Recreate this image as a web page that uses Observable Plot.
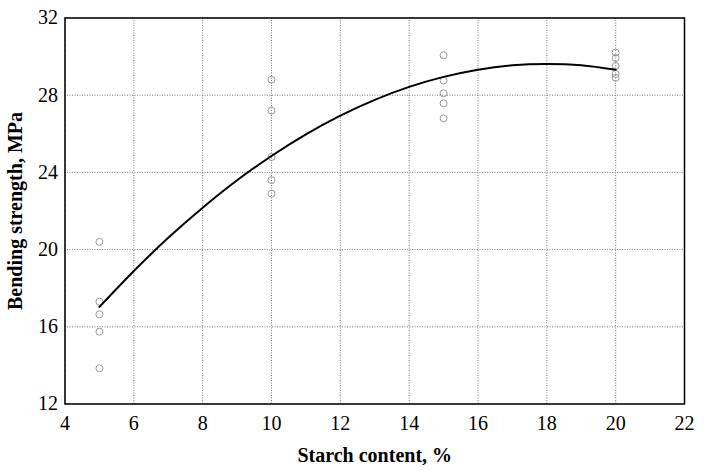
<!DOCTYPE html>
<html>
<head>
<meta charset="utf-8">
<script src="https://cdn.jsdelivr.net/npm/d3@7"></script>
<script src="https://cdn.jsdelivr.net/npm/@observablehq/plot@0.6"></script>
<style>
  html, body { margin: 0; padding: 0; background: #fff; }
  #chart { width: 704px; height: 471px; }
</style>
</head>
<body>
<div id="chart"></div>
<script>
// Measured samples
const starch = [5, 5, 5, 5, 5, 10, 10, 10, 10, 10, 15, 15, 15, 15, 15, 20, 20, 20, 20, 20];
const strength = [20.4, 17.3, 16.65, 15.75, 13.85,
                  28.8, 27.2, 24.8, 23.6, 22.9,
                  30.07, 28.76, 28.1, 27.58, 26.8,
                  30.21, 29.93, 29.52, 29.1, 28.9];

// Trend curve
const trendX = [5, 6, 7, 8, 9, 10, 11, 12, 13, 14, 15, 16, 17, 18, 19, 20];
const trendY = [17.03, 18.89, 20.61, 22.17, 23.59, 24.85, 25.97, 26.94, 27.76, 28.43, 28.95, 29.32, 29.55, 29.62, 29.55, 29.32];

const xTicks = [4, 6, 8, 10, 12, 14, 16, 18, 20, 22];
const yTicks = [12, 16, 20, 24, 28, 32];

const xTitle = "Starch content, %";
const yTitle = "Bending strength, MPa";

const points = starch.map((x, i) => ({x, y: strength[i]}));
const trend = trendX.map((x, i) => ({x, y: trendY[i]}));

const serif = "'Liberation Serif', 'Times New Roman', 'DejaVu Serif', serif";

const plot = Plot.plot({
  width: 704,
  height: 471,
  marginLeft: 64.5,
  marginRight: 20,
  marginTop: 17.5,
  marginBottom: 67.5,
  style: {fontFamily: serif, fontSize: "20px", background: "#fff", color: "#000"},
  x: {domain: [4, 22]},
  y: {domain: [12, 32]},
  marks: [
    Plot.gridX(xTicks, {stroke: "#777", strokeOpacity: 1, strokeDasharray: "1,1.5"}),
    Plot.gridY(yTicks, {stroke: "#777", strokeOpacity: 1, strokeDasharray: "1,1.5"}),
    Plot.axisX(xTicks, {tickSize: 0, tickPadding: 12, label: null, fontSize: 20}),
    Plot.axisY(yTicks, {tickSize: 0, tickPadding: 7, label: null, fontSize: 20}),
    Plot.dot(points, {x: "x", y: "y", r: 3.5, stroke: "#999", strokeWidth: 1, fill: "none"}),
    Plot.line(trend, {x: "x", y: "y", curve: "natural", stroke: "#000", strokeWidth: 2}),
    Plot.frame({stroke: "#000", strokeWidth: 1.5}),
    Plot.text([xTitle], {frameAnchor: "bottom", lineAnchor: "middle", textAnchor: "middle", dy: 52, fontWeight: "bold", fontSize: 20, fill: "#000"}),
    Plot.text([yTitle], {frameAnchor: "left", lineAnchor: "middle", textAnchor: "middle", dx: -49, rotate: -90, fontWeight: "bold", fontSize: 20, fill: "#000"})
  ]
});

document.getElementById("chart").appendChild(plot);
</script>
</body>
</html>
